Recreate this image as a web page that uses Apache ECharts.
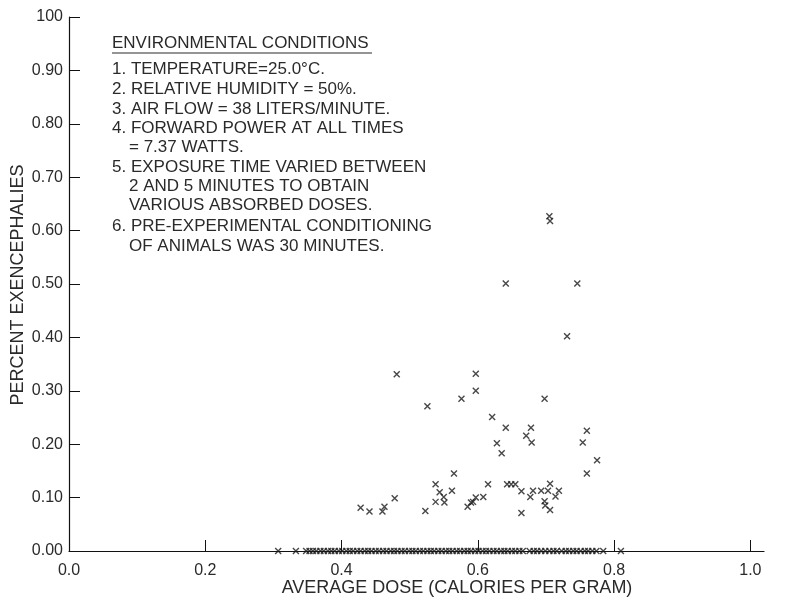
<!DOCTYPE html>
<html>
<head>
<meta charset="utf-8">
<script src="https://cdn.jsdelivr.net/npm/echarts@6/dist/echarts.min.js"></script>
<style>
html,body{margin:0;padding:0;background:#fff;}
#c{width:786px;height:599px;}
</style>
</head>
<body>
<div id="c"></div>
<script>
// Tick labels
var xTicks = [0, 0.2, 0.4, 0.6, 0.8, 1.0];
var yTickLabels = ['0.00','0.10','0.20','0.30','0.40','0.50','0.60','0.70','0.80','0.90','100'];

// Points with non-zero exencephalies: [average dose, percent]
var doseNonZero = [0.428,0.441,0.460,0.463,0.478,0.481,0.523,0.526,0.538,0.538,0.544,0.550,0.551,0.562,0.565,0.576,0.585,0.590,0.593,0.597,0.597,0.597,0.608,0.615,0.621,0.628,0.635,0.641,0.641,0.643,0.649,0.655,0.664,0.664,0.671,0.677,0.678,0.679,0.681,0.693,0.698,0.698,0.699,0.703,0.706,0.706,0.705,0.706,0.714,0.719,0.731,0.746,0.754,0.760,0.760,0.775];
var pctNonZero  = [0.081,0.074,0.074,0.083,0.099,0.331,0.075,0.271,0.125,0.092,0.110,0.101,0.091,0.113,0.145,0.285,0.083,0.091,0.092,0.100,0.332,0.300,0.101,0.125,0.251,0.202,0.183,0.501,0.231,0.125,0.125,0.125,0.112,0.071,0.216,0.101,0.231,0.203,0.113,0.113,0.285,0.093,0.085,0.113,0.126,0.077,0.627,0.618,0.102,0.113,0.402,0.501,0.203,0.225,0.145,0.170];

// Points with zero exencephalies: average dose values
var doseZero = [0.307,0.333,
 0.348,0.353,0.358,0.363,0.369,0.374,0.380,0.385,0.390,0.396,0.401,0.407,0.412,0.417,0.423,0.428,0.434,0.439,0.444,0.450,
 0.455,0.461,0.466,0.472,0.477,0.482,0.488,0.493,0.499,0.504,0.509,0.515,0.520,0.526,0.531,0.536,0.542,0.547,0.553,0.558,
 0.563,0.569,0.574,0.580,0.585,0.590,0.596,0.601,0.607,0.612,0.617,0.623,0.628,0.634,0.639,0.644,0.650,0.655,0.661,0.666,
 0.676,0.682,0.687,0.693,0.699,0.705,0.711,0.716,
 0.723,0.729,0.734,0.740,0.745,0.751,0.757,0.762,0.768,0.774,
 0.784,0.810];

var notes = [
  'ENVIRONMENTAL CONDITIONS',
  '1. TEMPERATURE=25.0°C.',
  '2. RELATIVE HUMIDITY = 50%.',
  '3. AIR FLOW = 38 LITERS/MINUTE.',
  '4. FORWARD POWER AT ALL TIMES',
  '    = 7.37 WATTS.',
  '5. EXPOSURE TIME VARIED BETWEEN',
  '    2 AND 5 MINUTES TO OBTAIN',
  '    VARIOUS ABSORBED DOSES.',
  '6. PRE-EXPERIMENTAL CONDITIONING',
  '    OF ANIMALS WAS 30 MINUTES.'
];

var FONT = '"Liberation Sans", Arial, sans-serif';
var TXT = '#2a2a2a';

var nzData = doseNonZero.map(function(d,i){ return [d, pctNonZero[i]]; });
var zData = doseZero.map(function(d){ return [d, 0]; });

var noteY = [43,69,89,109,128,147,167,186,205,226,246];
var graphics = notes.map(function(t,i){
  var indent = /^    /.test(t);
  return {
    type:'text', x: indent ? 129 : 112, y: noteY[i], silent:true,
    style:{ text: t.replace(/^    /,''), fill: TXT, font: '17px ' + FONT, textVerticalAlign:'middle' }
  };
});
graphics.push({type:'line', silent:true, shape:{x1:112,y1:53,x2:372,y2:53}, style:{stroke:TXT, lineWidth:1}});
graphics.push({type:'text', x:457, y:588, silent:true,
  style:{text:'AVERAGE DOSE (CALORIES PER GRAM)', fill:TXT, font:'18px ' + FONT, textAlign:'center', textVerticalAlign:'middle'}});
graphics.push({type:'text', x:18, y:285, rotation:Math.PI/2, silent:true,
  style:{text:'PERCENT EXENCEPHALIES', fill:TXT, font:'18px ' + FONT, textAlign:'center', textVerticalAlign:'middle'}});

var xSym = 'path://M0,0L10,10M10,0L0,10';

var chart = echarts.init(document.getElementById('c'), null, {renderer:'canvas'});
chart.setOption({
  animation:false,
  backgroundColor:'#fff',
  grid:{left:69, right:22, top:17, bottom:48, containLabel:false},
  xAxis:{
    type:'value', min:0, max:1.02,
    axisLine:{show:true, onZero:false, lineStyle:{color:'#111', width:1.2}},
    axisTick:{show:true, inside:true, length:11, lineStyle:{color:'#111', width:1}, customValues:xTicks},
    axisLabel:{show:true, margin:12, color:TXT, fontSize:16, fontFamily:FONT, customValues:xTicks,
      formatter:function(v){ return v.toFixed(1); }},
    splitLine:{show:false}
  },
  yAxis:{
    type:'value', min:0, max:1, interval:0.1,
    axisLine:{show:true, onZero:false, lineStyle:{color:'#111', width:1.2}},
    axisTick:{show:true, inside:true, length:11, lineStyle:{color:'#111', width:1}},
    axisLabel:{show:true, margin:6, color:TXT, fontSize:16, fontFamily:FONT,
      formatter:function(v){ var i = Math.round(v*10); return yTickLabels[i]; }},
    splitLine:{show:false}
  },
  series:[
    {type:'scatter', data:nzData, symbol:xSym, symbolSize:6, silent:true, clip:false,
      itemStyle:{color:'transparent', borderColor:'#1a1a1a', borderWidth:1.4}},
    {type:'scatter', data:zData, symbol:xSym, symbolSize:6, silent:true, clip:false,
      itemStyle:{color:'transparent', borderColor:'#1a1a1a', borderWidth:1.4}}
  ],
  graphic: graphics
});
</script>
</body>
</html>
